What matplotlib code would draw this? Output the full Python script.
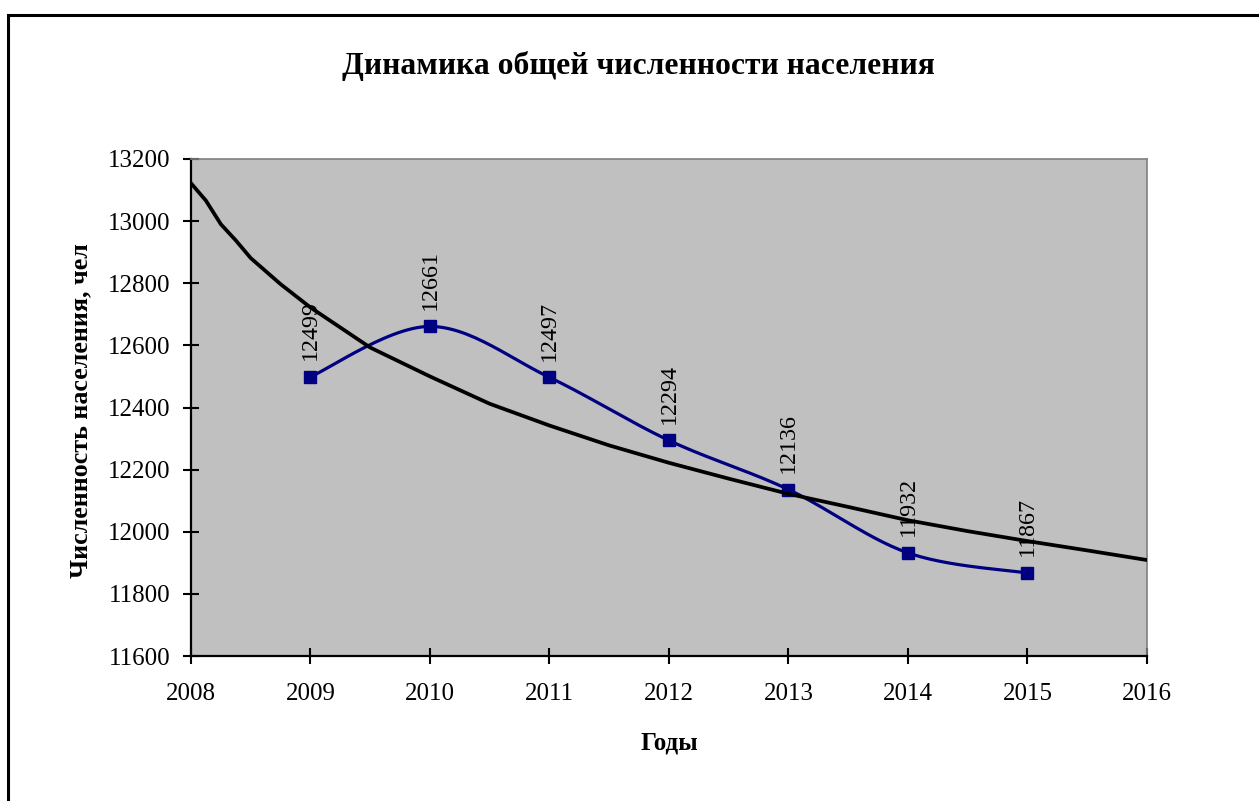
import matplotlib.pyplot as plt
import numpy as np
from matplotlib.patches import Rectangle

# данные
years = [2009, 2010, 2011, 2012, 2013, 2014, 2015]
population = [12499, 12661, 12497, 12294, 12136, 11932, 11867]

# линия тренда
trend_x = [2008.0, 2008.125, 2008.25, 2008.375, 2008.5, 2008.75, 2009.0, 2009.5, 2010.0,
           2010.5, 2011.0, 2011.5, 2012.0, 2012.5, 2013.0, 2013.5, 2014.0, 2014.5,
           2015.0, 2015.5, 2016.0]
trend_y = [13122, 13066, 12990, 12938, 12881, 12797, 12722, 12593, 12500,
           12412, 12342, 12278, 12222, 12171, 12122, 12080, 12037, 12002,
           11970, 11940, 11909]

title = "Динамика общей численности населения"
xlabel = "Годы"
ylabel = "Численность населения, чел"


def smooth(x, y, n=30):
    # сглаживание как в Excel: кривые Безье с касательными Катмулла-Рома
    x = np.asarray(x, float)
    y = np.asarray(y, float)
    px = np.concatenate([[x[0]], x, [x[-1]]])
    py = np.concatenate([[y[0]], y, [y[-1]]])
    xs, ys = [], []
    t = np.linspace(0, 1, n)
    for i in range(1, len(px) - 2):
        p0 = np.array([px[i], py[i]])
        p3 = np.array([px[i + 1], py[i + 1]])
        p1 = p0 + (np.array([px[i + 1], py[i + 1]]) - np.array([px[i - 1], py[i - 1]])) / 6
        p2 = p3 - (np.array([px[i + 2], py[i + 2]]) - np.array([px[i], py[i]])) / 6
        b = ((1 - t) ** 3)[:, None] * p0 + (3 * (1 - t) ** 2 * t)[:, None] * p1 \
            + (3 * (1 - t) * t ** 2)[:, None] * p2 + (t ** 3)[:, None] * p3
        xs.extend(b[:, 0])
        ys.extend(b[:, 1])
    return xs, ys


plt.rcParams['font.family'] = ['Liberation Serif', 'DejaVu Serif']

fig = plt.figure(figsize=(12.59, 8.01), dpi=100)
ax = fig.add_axes([0.1517, 0.1810, 0.7593, 0.6205])
ax.set_facecolor('#C0C0C0')

sx, sy = smooth(years, population)
ax.plot(sx, sy, color='#000080', lw=2.3, zorder=3)
ax.plot(years, population, ls='none', marker='s', ms=8.5, color='#000080', zorder=4)
ax.plot(trend_x, trend_y, color='black', lw=2.7, zorder=5)

for x, v in zip(years, population):
    ax.annotate(str(v), (x, v), xytext=(0, 12), textcoords='offset points',
                rotation=90, ha='center', va='bottom', fontsize=17.3, zorder=6)

ax.set_xlim(2008, 2016)
ax.set_ylim(11600, 13200)
ax.set_xticks(range(2008, 2017))
ax.set_yticks(range(11600, 13201, 200))
ax.tick_params(direction='inout', length=11, width=1.5, labelsize=18, pad=9)
ax.tick_params(axis='x', pad=14)

for s in ['left', 'bottom']:
    ax.spines[s].set_linewidth(1.6)
    ax.spines[s].set_color('black')
for s in ['top', 'right']:
    ax.spines[s].set_linewidth(1.2)
    ax.spines[s].set_color('#808080')

fig.text(0.507, 0.918, title, ha='center', va='center', fontsize=22.8, fontweight='bold')
fig.text(0.532, 0.072, xlabel, ha='center', va='center', fontsize=18, fontweight='bold')
fig.text(0.064, 0.487, ylabel, ha='center', va='center', rotation=90, fontsize=18.7,
         fontweight='bold')

# рамка вокруг диаграммы
fig.patches.append(Rectangle((8 / 1259, -0.2), 1.2, 1.2 - 15 / 801, transform=fig.transFigure,
                             fill=False, lw=2.2, edgecolor='black', zorder=10))

plt.savefig('out.png', dpi=100)
plt.close()
